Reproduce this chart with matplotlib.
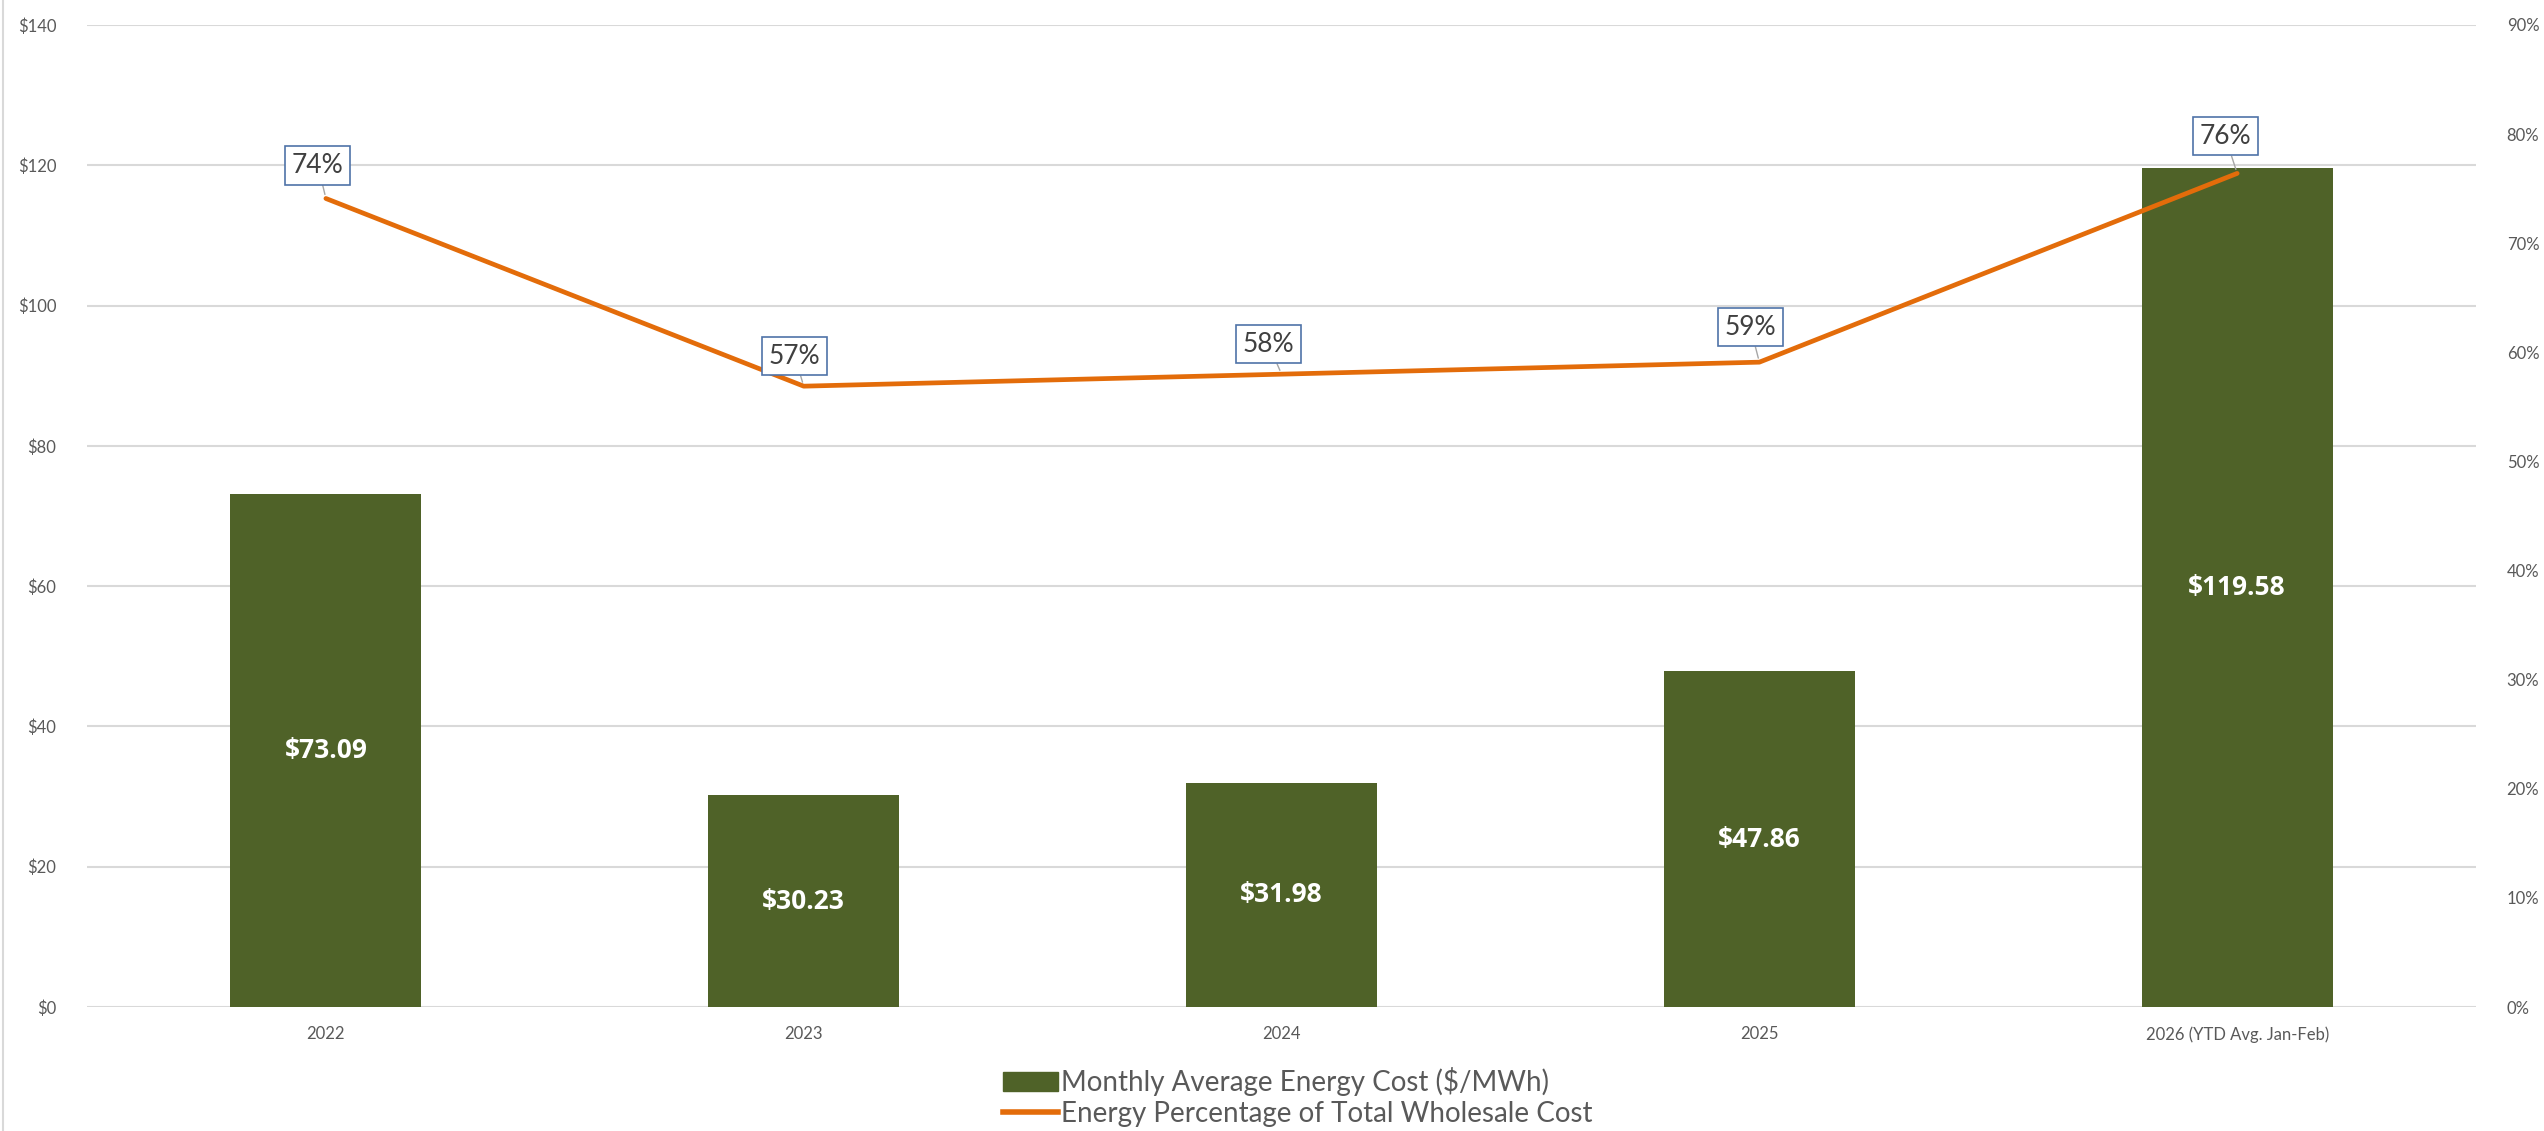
"""Monthly average energy cost vs energy share of total wholesale cost."""

import matplotlib

matplotlib.use("Agg")
import matplotlib.pyplot as plt
from matplotlib.lines import Line2D
from matplotlib.patches import Patch
from matplotlib.ticker import FuncFormatter

plt.rcParams["font.family"] = ["Lato", "DejaVu Sans"]

categories = ["2022", "2023", "2024", "2025", "2026 (YTD Avg. Jan-Feb)"]
energy_cost = [73.09, 30.23, 31.98, 47.86, 119.58]
energy_share = [0.741, 0.569, 0.580, 0.591, 0.764]
share_labels = ["74%", "57%", "58%", "59%", "76%"]

bar_color = "#4f6228"
line_color = "#e36c0a"
grid_color = "#d9d9d9"
text_color = "#595959"

fig = plt.figure(figsize=(25.44, 11.31), dpi=100)
ax = fig.add_axes([0.0342, 0.1096, 0.9391, 0.8683])
ax2 = ax.twinx()

x = list(range(len(categories)))
ax.bar(x, energy_cost, width=0.40, color=bar_color, zorder=2)
for xi, v in zip(x, energy_cost):
    ax.text(xi, v / 2, f"${v:.2f}", ha="center", va="center", color="white",
            fontsize=19, fontweight="bold", family=["Open Sans", "DejaVu Sans"],
            zorder=3)

ax.set_xlim(-0.5, len(categories) - 0.5)
ax.set_ylim(0, 140)
ax.set_yticks(range(0, 141, 20))
ax.yaxis.set_major_formatter(FuncFormatter(lambda v, _: f"${v:.0f}"))
ax.grid(axis="y", color=grid_color, linewidth=1.5, zorder=0)
ax.set_axisbelow(True)
ax.set_xticks(x)
ax.set_xticklabels(categories)

ax2.plot(x, energy_share, color=line_color, linewidth=3.4, zorder=4,
         solid_capstyle="round")
ax2.set_ylim(0, 0.9)
ax2.set_yticks([i / 10 for i in range(10)])
ax2.yaxis.set_major_formatter(FuncFormatter(lambda v, _: f"{v * 100:.0f}%"))

label_offsets = [(-8, 33), (-9, 30), (-13, 30), (-9, 35), (-12, 37)]
for xi, v, lab, (dx, dy) in zip(x, energy_share, share_labels, label_offsets):
    ax2.annotate(
        lab, xy=(xi, v), xytext=(dx, dy), textcoords="offset pixels",
        ha="center", va="center", fontsize=19, color="#404040", zorder=6,
        bbox=dict(boxstyle="square,pad=0.25", facecolor="white",
                  edgecolor="#4f73a8", linewidth=1.2),
        arrowprops=dict(arrowstyle="-", color="#a6a6a6", linewidth=1,
                        shrinkA=0, shrinkB=3),
    )

for a in (ax, ax2):
    for s in a.spines.values():
        s.set_visible(False)
    a.tick_params(length=0, labelsize=12, colors=text_color)
ax.tick_params(axis="y", pad=22)
ax.tick_params(axis="x", pad=14)
ax2.tick_params(axis="y", pad=22)

handles = [
    Patch(facecolor=bar_color, edgecolor=bar_color),
    Line2D([0], [0], color=line_color, linewidth=4),
]
fig.legend(handles,
           ["Monthly Average Energy Cost ($/MWh)",
            "Energy Percentage of Total Wholesale Cost"],
           loc="center", bbox_to_anchor=(0.51, 0.03), ncol=1, frameon=False,
           fontsize=20, labelcolor=text_color, handlelength=2.0,
           handletextpad=0.1, labelspacing=0.15, borderpad=0)

fig.add_artist(Line2D([0.0012, 0.0012], [0, 1], transform=fig.transFigure,
                      color="#d9d9d9", linewidth=1.5))

fig.savefig("out.png", dpi=100)
